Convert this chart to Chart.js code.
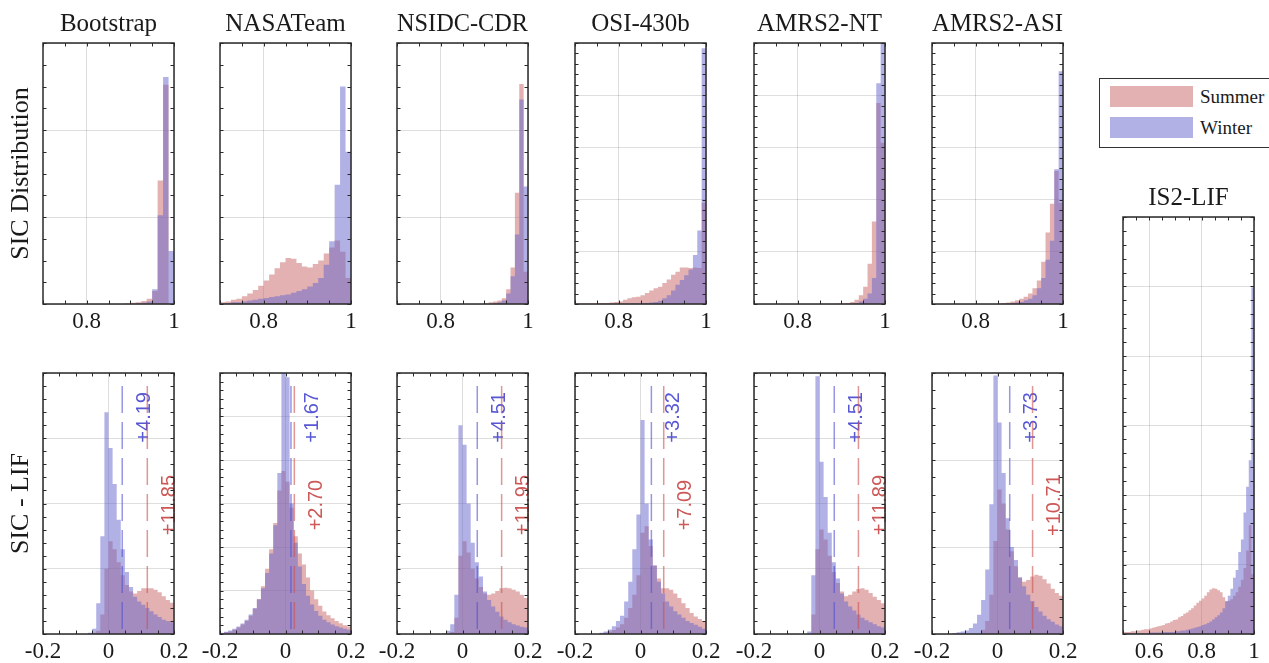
<!DOCTYPE html>
<html>
<head>
<meta charset="utf-8">
<script src="https://cdn.jsdelivr.net/npm/chart.js@4.4.0/dist/chart.umd.min.js"></script>
<style>
  html, body { margin: 0; padding: 0; background: #fff; overflow: hidden; }
  #page { position: relative; width: 1269px; height: 663px; }
  .panel { position: absolute; }
  #legend { position: absolute; left: 1099px; top: 78px; width: 180px; height: 70px; box-sizing: border-box;
            border: 1px solid #333; background: #fff; font-family: "Liberation Serif", serif; font-size: 19px; color: #1a1a1a; }
  #legend .sw { position: absolute; left: 10px; width: 83px; height: 21px; }
  #legend .lt { position: absolute; left: 100px; line-height: 21px; }
</style>
</head>
<body>
<div id="page">
  <div id="legend">
    <div class="sw" id="swSummer" style="top:7px"></div><div class="lt" style="top:7px">Summer</div>
    <div class="sw" id="swWinter" style="top:38px"></div><div class="lt" style="top:38px">Winter</div>
  </div>
</div>
<script>
// ---- data ----
const products = ["Bootstrap", "NASATeam", "NSIDC-CDR", "OSI-430b", "AMRS2-NT", "AMRS2-ASI"];

// SIC distribution (top row), bins start at 0.7
const sicBinWidth = [0.0125, 0.0125, 0.01, 0.01, 0.01, 0.01];
const bootstrapSicSummer = [0,0,0,0,0,0,0,0,0,0,0,0,0,0,0,0.005,0.015,0.02,0.035,0.06,0.15,1.42,2.52,0];
const bootstrapSicWinter = [0,0,0,0,0,0,0,0,0,0,0,0,0,0,0,0,0,0.005,0.015,0.03,0.17,1.02,2.61,0.61];
const nasateamSicSummer = [0.02,0.03,0.05,0.06,0.09,0.12,0.16,0.21,0.27,0.34,0.41,0.48,0.53,0.52,0.47,0.43,0.42,0.46,0.50,0.58,0.65,0.73,0.6,0.3];
const nasateamSicWinter = [0.01,0.01,0.02,0.02,0.03,0.04,0.05,0.06,0.07,0.08,0.09,0.10,0.11,0.13,0.15,0.17,0.2,0.24,0.3,0.45,0.72,1.37,2.5,1.75];
const nsidcSicSummer = [0,0,0,0,0,0,0,0,0,0,0,0,0,0,0,0,0,0,0,0,0.01,0.02,0.03,0.04,0.065,0.17,0.42,1.28,2.53,0.37];
const nsidcSicWinter = [0,0,0,0,0,0,0,0,0,0,0,0,0,0,0,0,0,0,0,0,0,0,0.01,0.02,0.04,0.12,0.32,0.80,2.35,1.35];
const osiSicSummer = [0.01,0.01,0.01,0.01,0.01,0.02,0.02,0.02,0.03,0.04,0.05,0.08,0.11,0.13,0.14,0.17,0.21,0.26,0.30,0.33,0.40,0.47,0.56,0.62,0.70,0.70,0.69,0.70,0.69,1.94];
const osiSicWinter = [0,0,0,0,0,0,0,0,0,0,0.005,0.005,0.005,0.01,0.01,0.02,0.02,0.03,0.04,0.06,0.11,0.17,0.26,0.37,0.46,0.55,0.66,0.94,1.41,4.9];
const amsrNtSicSummer = [0,0,0,0,0,0,0,0,0,0,0,0,0,0,0,0.003,0.005,0.005,0.007,0.01,0.015,0.02,0.04,0.08,0.17,0.33,0.77,1.58,3.85,3.09];
const amsrNtSicWinter = [0,0,0,0,0,0,0,0,0,0,0,0,0,0,0,0,0,0,0,0,0,0,0.01,0.02,0.05,0.1,0.2,0.5,4.23,5.5];
const amsrAsiSicSummer = [0,0,0,0,0,0,0,0,0,0,0,0,0,0,0,0.01,0.02,0.03,0.05,0.07,0.1,0.14,0.2,0.3,0.45,0.81,1.37,1.92,2.55,1.94];
const amsrAsiSicWinter = [0,0,0,0,0,0,0,0,0,0,0,0,0,0,0,0,0,0.01,0.02,0.03,0.04,0.07,0.1,0.17,0.3,0.5,0.85,1.21,2.58,4.46];

// SIC - LIF (bottom row), bins of 0.0125 starting at -0.2
const bootstrapDiffSummer = [0,0,0,0,0,0,0,0,0,0,0,0,0.02,0.05,0.3,1.0,1.42,1.3,1.1,0.9,0.75,0.65,0.62,0.66,0.7,0.7,0.7,0.68,0.64,0.58,0.52,0.48];
const bootstrapDiffWinter = [0,0,0,0,0,0,0,0,0,0,0,0.02,0.08,0.47,1.5,3.4,2.85,2.3,1.75,1.3,0.95,0.72,0.57,0.5,0.45,0.4,0.35,0.3,0.26,0.22,0.2,0.18];
const nasateamDiffSummer = [0.02,0.04,0.06,0.1,0.15,0.22,0.3,0.42,0.58,0.8,1.1,1.5,1.95,2.55,3.3,3.75,3.5,2.9,2.25,1.85,1.6,1.3,1.0,0.8,0.65,0.52,0.43,0.36,0.3,0.25,0.2,0.17];
const nasateamDiffWinter = [0.03,0.05,0.08,0.12,0.17,0.24,0.33,0.45,0.6,0.8,1.05,1.4,1.85,2.5,3.7,6.1,5.9,3.0,2.1,1.55,1.15,0.88,0.68,0.53,0.42,0.33,0.27,0.22,0.18,0.15,0.12,0.1];
const nsidcDiffSummer = [0,0,0,0,0,0,0,0,0,0,0,0,0,0.03,0.25,1.2,1.42,1.25,1.0,0.85,0.72,0.62,0.6,0.62,0.66,0.7,0.71,0.7,0.68,0.65,0.6,0.55];
const nsidcDiffWinter = [0,0,0,0,0,0,0,0,0,0,0,0.01,0.05,0.15,0.6,3.2,2.9,2.0,1.4,1.1,0.88,0.65,0.52,0.42,0.34,0.27,0.22,0.18,0.15,0.13,0.11,0.1];
const osiDiffSummer = [0,0,0,0,0,0,0.01,0.02,0.04,0.06,0.1,0.15,0.25,0.4,0.6,0.9,1.55,1.65,1.35,1.05,0.85,0.7,0.7,0.68,0.62,0.55,0.47,0.4,0.32,0.27,0.23,0.2];
const osiDiffWinter = [0,0,0,0,0,0,0.02,0.04,0.07,0.12,0.2,0.28,0.5,0.8,1.3,1.83,3.28,2.0,1.45,1.05,0.8,0.62,0.5,0.42,0.35,0.3,0.25,0.2,0.17,0.14,0.11,0.08];
const amsrNtDiffSummer = [0,0,0,0,0,0,0,0,0,0,0,0,0,0,0.3,1.3,1.6,1.45,1.2,0.95,0.78,0.65,0.58,0.6,0.65,0.69,0.7,0.68,0.63,0.57,0.52,0.47];
const amsrNtDiffWinter = [0,0,0,0,0,0,0,0,0,0,0,0,0,0.04,0.9,3.95,2.64,2.1,1.55,1.1,0.85,0.62,0.5,0.42,0.36,0.3,0.25,0.21,0.18,0.15,0.12,0.1];
const amsrAsiDiffSummer = [0,0,0,0,0,0,0,0,0,0,0,0,0.05,0.15,0.45,1.07,1.66,1.5,1.2,0.95,0.78,0.65,0.6,0.62,0.66,0.68,0.67,0.63,0.58,0.52,0.47,0.44];
const amsrAsiDiffWinter = [0,0,0,0,0,0.01,0.02,0.03,0.04,0.07,0.12,0.22,0.39,0.74,1.49,2.97,2.43,1.85,1.33,1.0,0.85,0.65,0.55,0.45,0.38,0.31,0.26,0.21,0.17,0.14,0.11,0.09];

// IS2-LIF distribution, bins of 0.01 starting at 0.5
const lifSummer = [0.03,0.03,0.03,0.04,0.04,0.05,0.05,0.06,0.07,0.07,0.08,0.09,0.10,0.11,0.12,0.13,0.15,0.16,0.18,0.20,
  0.21,0.24,0.26,0.29,0.31,0.34,0.37,0.41,0.45,0.48,0.51,0.55,0.60,0.64,0.66,0.65,0.63,0.60,0.53,0.47,
  0.48,0.5,0.55,0.6,0.68,0.78,0.95,1.2,1.57,0.86];
const lifWinter = [0.01,0.01,0.01,0.01,0.01,0.01,0.01,0.01,0.01,0.01,0.02,0.02,0.02,0.02,0.02,0.03,0.03,0.03,0.03,0.03,
  0.04,0.04,0.05,0.05,0.06,0.07,0.08,0.09,0.10,0.11,0.13,0.14,0.16,0.18,0.21,0.24,0.27,0.31,0.37,0.47,
  0.55,0.65,0.81,0.92,1.18,1.36,1.75,2.12,2.5,4.99];

// mean bias (%) shown on the SIC - LIF panels
const meanSummer = [11.85, 2.70, 11.95, 7.09, 11.89, 10.71];
const meanWinter = [4.19, 1.67, 4.51, 3.32, 4.51, 3.73];

const sicYMax = [3, 3, 3, 5, 5, 5];
const sicYMinor = [4, 4, 4, 5, 5, 5];
const diffYMax = [4, 6, 4, 4, 4, 3];

const sicSummer = [bootstrapSicSummer, nasateamSicSummer, nsidcSicSummer, osiSicSummer, amsrNtSicSummer, amsrAsiSicSummer];
const sicWinter = [bootstrapSicWinter, nasateamSicWinter, nsidcSicWinter, osiSicWinter, amsrNtSicWinter, amsrAsiSicWinter];
const diffSummer = [bootstrapDiffSummer, nasateamDiffSummer, nsidcDiffSummer, osiDiffSummer, amsrNtDiffSummer, amsrAsiDiffSummer];
const diffWinter = [bootstrapDiffWinter, nasateamDiffWinter, nsidcDiffWinter, osiDiffWinter, amsrNtDiffWinter, amsrAsiDiffWinter];

// ---- style ----
const FILL = { Summer: "rgba(200, 100, 100, 0.5)", Winter: "rgba(100, 100, 205, 0.5)" };
const LINE = { Summer: "rgba(205, 80, 80, 0.6)", Winter: "rgba(80, 80, 210, 0.6)" };
const TEXT = { Summer: "rgb(205, 88, 88)", Winter: "rgb(88, 88, 212)" };
const SERIF = '"Liberation Serif", "Times New Roman", serif';
const INK = "#1a1a1a";
const GRID = "rgba(0, 0, 0, 0.13)";
const AXIS = "#2a2a2a";

const colLeft = [43, 220, 397, 575, 754, 932];
const PW = 131;

document.getElementById("swSummer").style.background = FILL.Summer;
document.getElementById("swWinter").style.background = FILL.Winter;

// bin edges -> step outline; last point closes the final bin
function histPoints(vals, lo, w) {
  const pts = vals.map((v, i) => ({ x: lo + i * w, y: v }));
  pts.push({ x: lo + vals.length * w, y: vals[vals.length - 1] });
  return pts;
}

function stepsBetween(a, b, step) {
  const out = [];
  const n = Math.round((b - a) / step);
  for (let i = 0; i <= n; i++) out.push(a + i * step);
  return out;
}

// box around the plot with inward major/minor ticks on all four sides
const frame = {
  id: "frame",
  afterDraw(chart, args, opts) {
    const { ctx, chartArea: a, scales: { x, y } } = chart;
    const tl = 3.5;
    ctx.save();
    ctx.strokeStyle = AXIS;
    ctx.lineWidth = 1;
    ctx.beginPath();
    for (const v of stepsBetween(x.min, x.max, opts.xMinor)) {
      const px = Math.round(x.getPixelForValue(v)) + 0.5;
      ctx.moveTo(px, a.bottom); ctx.lineTo(px, a.bottom - tl);
      ctx.moveTo(px, a.top); ctx.lineTo(px, a.top + tl);
    }
    for (const v of stepsBetween(0, y.max, 1 / opts.yMinor)) {
      const py = Math.round(y.getPixelForValue(v)) + 0.5;
      ctx.moveTo(a.left, py); ctx.lineTo(a.left + tl, py);
      ctx.moveTo(a.right, py); ctx.lineTo(a.right - tl, py);
    }
    ctx.stroke();
    ctx.lineWidth = 1.5;
    ctx.strokeRect(a.left, a.top, a.right - a.left, a.bottom - a.top);
    ctx.restore();
  }
};

// dashed mean lines with rotated labels
const means = {
  id: "means",
  afterDatasetsDraw(chart, args, opts) {
    if (!opts.marks) return;
    const { ctx, scales: { x, y } } = chart;
    for (const m of opts.marks) {
      const px = x.getPixelForValue(m.value / 100);
      ctx.save();
      ctx.strokeStyle = LINE[m.name];
      ctx.lineWidth = 1.5;
      ctx.setLineDash([27, 9]);
      ctx.beginPath();
      ctx.moveTo(px, y.getPixelForValue(y.max * 0.95));
      ctx.lineTo(px, y.getPixelForValue(0));
      ctx.stroke();
      ctx.setLineDash([]);
      ctx.translate(px + 22, y.getPixelForValue(y.max * m.at));
      ctx.rotate(-Math.PI / 2);
      ctx.fillStyle = TEXT[m.name];
      ctx.font = '20px "Liberation Sans", Arial, sans-serif';
      ctx.textAlign = "center";
      ctx.textBaseline = "middle";
      ctx.fillText("+" + m.value.toFixed(2), 0, 0);
      ctx.restore();
    }
  }
};

function panel(o) {
  const padL = o.yTitle ? o.left : 30, padR = 30;
  const padT = o.title ? 43 : 10, padB = 40;
  const W = PW + padL + padR, H = o.height + padT + padB;
  const div = document.createElement("div");
  div.className = "panel";
  div.style.left = (o.left - padL) + "px";
  div.style.top = (o.top - padT) + "px";
  const cv = document.createElement("canvas");
  cv.width = W; cv.height = H;
  cv.style.width = W + "px"; cv.style.height = H + "px";
  div.appendChild(cv);
  document.getElementById("page").appendChild(div);

  new Chart(cv, {
    type: "line",
    data: {
      datasets: [
        { label: "Summer", data: histPoints(o.summer, o.lo, o.w), order: 1 },
        { label: "Winter", data: histPoints(o.winter, o.lo, o.w), order: 0 }
      ].map(d => Object.assign(d, {
        stepped: "before", fill: "origin", backgroundColor: FILL[d.label],
        borderColor: "rgba(0,0,0,0)", borderWidth: 0, pointRadius: 0
      }))
    },
    options: {
      responsive: false,
      animation: false,
      events: [],
      layout: { padding: { left: 0, right: padR, top: o.title ? 0 : padT, bottom: 0 } },
      plugins: {
        legend: { display: false },
        tooltip: { enabled: false },
        title: {
          display: !!o.title, text: o.title, color: INK, fullSize: false,
          font: { family: SERIF, size: 25, weight: "normal" },
          padding: { top: 9, bottom: 4 }
        },
        frame: { xMinor: 0.05, yMinor: o.yMinor },
        means: { marks: o.marks }
      },
      scales: {
        x: {
          type: "linear", min: o.xMin, max: o.xMax,
          afterBuildTicks: s => { s.ticks = o.xTicks.map(v => ({ value: v })); },
          afterFit: s => { s.height = padB; },
          grid: { color: GRID, lineWidth: 1, drawTicks: false },
          border: { display: false },
          ticks: {
            color: INK, font: { family: SERIF, size: 23 }, padding: 4,
            maxRotation: 0, autoSkip: false,
            callback: v => String(Math.round(v * 10) / 10)
          }
        },
        y: {
          type: "linear", min: 0, max: o.yMax,
          afterBuildTicks: s => { s.ticks = stepsBetween(0, o.yMax, 1).map(v => ({ value: v })); },
          afterFit: s => { s.width = padL; },
          grid: { color: GRID, lineWidth: 1, drawTicks: false },
          border: { display: false },
          ticks: { display: false },
          title: {
            display: !!o.yTitle, text: o.yTitle, color: INK,
            font: { family: SERIF, size: 26, weight: "normal" },
            padding: { top: 6, bottom: 0 }
          }
        }
      }
    },
    plugins: [frame, means]
  });
}

products.forEach((name, i) => {
  panel({
    title: name, yTitle: i === 0 ? "SIC Distribution" : null,
    left: colLeft[i], top: 43, height: 261,
    xMin: 0.7, xMax: 1.0, xTicks: [0.8, 1.0],
    yMax: sicYMax[i], yMinor: sicYMinor[i],
    lo: 0.7, w: sicBinWidth[i],
    summer: sicSummer[i], winter: sicWinter[i]
  });
  panel({
    title: null, yTitle: i === 0 ? "SIC - LIF" : null,
    left: colLeft[i], top: 373, height: 261,
    xMin: -0.2, xMax: 0.2, xTicks: [-0.2, 0, 0.2],
    yMax: diffYMax[i], yMinor: 5,
    lo: -0.2, w: 0.0125,
    summer: diffSummer[i], winter: diffWinter[i],
    marks: [
      { name: "Winter", value: meanWinter[i], at: 0.83 },
      { name: "Summer", value: meanSummer[i], at: 0.494 }
    ]
  });
});

panel({
  title: "IS2-LIF", yTitle: null,
  left: 1123, top: 217, height: 417,
  xMin: 0.5, xMax: 1.0, xTicks: [0.6, 0.8, 1.0],
  yMax: 6, yMinor: 5,
  lo: 0.5, w: 0.01,
  summer: lifSummer, winter: lifWinter
});
</script>
</body>
</html>
